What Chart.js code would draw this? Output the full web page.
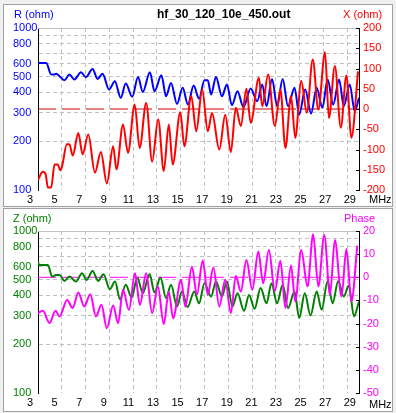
<!DOCTYPE html>
<html><head><meta charset="utf-8">
<script src="https://cdn.jsdelivr.net/npm/chart.js@4"></script>
<style>
html,body{margin:0;padding:0;background:#f0f0f0;width:396px;height:413px;overflow:hidden;position:relative;font-family:"Liberation Sans",Arial,sans-serif}
.panel{position:absolute;left:3px;width:388px;background:#fff;border:1px solid #a0a0a0}
#p1{top:4px;height:201px}
#p2{top:208px;height:202px}
canvas{position:absolute;left:0}
.lbl{position:absolute;font-size:11px;white-space:nowrap;line-height:12px}
</style></head><body>
<div class="panel" id="p1"></div><div class="panel" id="p2"></div>
<canvas id="c1" width="396" height="207" style="top:0"></canvas>
<canvas id="c2" width="396" height="206" style="top:207px"></canvas>
<div class="lbl" style="left:14px;top:8px;color:#0000ff">R (ohm)</div>
<div class="lbl" style="left:157px;top:8px;color:#000;font-weight:bold;font-size:12px">hf_30_120_10e_450.out</div>
<div class="lbl" style="left:343px;top:8px;color:#ff0000">X (ohm)</div>
<div class="lbl" style="left:369px;top:193px;color:#000">MHz</div>
<div class="lbl" style="left:13px;top:212px;color:#008000">Z (ohm)</div>
<div class="lbl" style="left:344px;top:212px;color:#ff00ff">Phase</div>
<div class="lbl" style="left:369px;top:398px;color:#000">MHz</div>
<script>
// ---- data ----
const freqTicks = [3,5,7,9,11,13,15,17,19,21,23,25,27,29];
const logTicks = [100,200,300,400,500,600,700,800,900,1000];
const logLabels = [100,200,300,400,500,600,800,1000];
const reactTicks = [-200,-150,-100,-50,0,50,100,150,200];
const phaseTicks = [-50,-40,-30,-20,-10,0,10,20];
const freqRange = [3,30];

const rFreq = [3.0,3.69,4.11,4.39,4.53,4.81,5.22,5.64,6.06,6.62,7.03,7.59,8.01,8.43,8.98,9.46,9.96,10.38,10.93,11.41,11.82,12.41,12.80,13.38,13.77,14.19,14.69,15.17,15.61,16.09,16.55,17.0,17.28,17.56,17.97,18.47,18.89,19.31,19.78,20.28,20.89,21.44,21.86,22.22,22.69,23.11,23.58,24.03,24.58,24.97,25.47,25.97,26.44,26.92,27.36,27.83,28.33,28.72,29.22,29.64,30.0];
const rVal = [608,608,516,516,521,504,476,516,481,533,497,559,485,521,417,469,371,454,376,499,403,533,407,511,379,458,340,427,337,441,366,476,476,388,499,379,448,334,407,325,423,353,448,329,485,329,485,329,427,292,417,297,427,322,481,337,481,329,448,307,371];

const xFreq = [3.0,3.41,3.64,3.83,4.11,4.39,4.67,4.86,5.03,5.42,5.64,5.92,6.39,6.75,7.23,7.79,8.29,8.79,9.32,9.60,10.15,10.57,11.13,11.55,12.10,12.60,13.11,13.58,14.00,14.33,14.97,15.31,15.89,16.31,16.81,17.28,17.64,18.25,18.75,19.22,19.64,20.06,20.53,20.89,21.58,21.86,22.36,22.92,23.39,23.81,24.28,24.64,25.14,25.61,26.11,26.58,27.14,27.47,27.97,28.47,28.94,29.36,29.92];
const xVal = [-175,-155,-161,-194,-194,-137,-137,-151,-141,-87,-87,-115,-59,-112,-63,-157,-106,-184,-92,-149,-38,-108,11,-96,15,-130,-26,-153,-38,-137,-8,-92,32,-55,48,-55,-10,-100,-14,-106,3,-42,50,-34,77,7,85,-42,48,-96,32,-71,69,-9,122,-1,140,-22,106,-46,83,-71,93];

const zFreq = [3.0,3.09,3.83,4.19,4.53,4.81,5.22,5.64,6.20,6.70,7.09,7.59,8.06,8.51,9.04,9.48,9.90,10.38,10.88,11.35,11.82,12.38,12.80,13.30,13.77,14.19,14.69,15.11,15.58,16.14,16.55,17.0,17.56,17.97,18.47,18.89,19.36,19.78,20.33,20.75,21.22,21.72,22.22,22.64,23.11,23.58,24.03,24.58,24.97,25.44,25.92,26.44,26.86,27.36,27.78,28.25,28.72,29.14,29.58,30.0];
const zVal = [647,617,617,523,536,536,492,523,487,549,499,567,492,541,437,487,379,465,388,516,413,543,417,516,385,465,342,423,339,423,358,476,394,487,394,487,342,413,322,403,331,444,358,476,358,465,334,423,290,413,301,423,326,492,358,492,394,461,297,367];

const pFreq = [3.0,3.41,3.97,4.47,4.81,5.45,5.92,6.39,6.89,7.40,7.87,8.34,8.79,9.32,9.74,10.15,10.65,11.16,11.57,12.10,12.60,13.08,13.58,14.00,14.36,15.03,15.39,15.95,16.36,16.86,17.28,17.75,18.25,18.75,19.22,19.64,20.06,20.53,21.03,21.53,21.94,22.42,22.92,23.39,23.81,24.28,24.64,25.14,25.67,26.14,26.58,27.08,27.56,27.97,28.53,28.94,29.36,29.86];
const pVal = [-15.5,-14.5,-19.8,-14.5,-16.9,-9.8,-13.3,-6.6,-12.6,-7.3,-16.9,-11.9,-22.0,-12.2,-19.8,-5.4,-14.1,1.7,-11.9,1.7,-15.5,-4.0,-20.2,-6.2,-17.7,-1.1,-12.6,4.6,-7.6,7.2,-7.6,4.2,-12.6,-1.1,-15.5,0.6,-6.2,7.5,-5.4,11.1,-2.6,11.8,-5.9,7.1,-13.3,5.1,-10.5,11.8,-4.0,18.6,-4.0,18.3,-7.6,16.1,-8.3,12.2,-10.5,13.7];

// ---- chart builder ----
const FONT = {family:'"Liberation Sans", Arial, sans-serif', size:11};
const GRID = '#c0c0c0';
const pts = (fx, fy) => fx.map((f,i)=>({x:f, y:fy[i]}));

const framePlugin = {
  id:'frame',
  beforeDatasetsDraw(chart){
    const {ctx, chartArea:a} = chart;
    ctx.save();
    ctx.strokeStyle = GRID; ctx.lineWidth = 1;
    const t = Math.round(a.top)+0.5;
    ctx.beginPath(); ctx.moveTo(a.left, t); ctx.lineTo(a.right, t); ctx.stroke();
    const s = chart.scales.y2;
    ctx.strokeStyle = '#000';
    ctx.beginPath();
    s.ticks.forEach(tk=>{
      const y = Math.round(s.getPixelForValue(tk.value))+0.5;
      ctx.moveTo(a.right-3, y); ctx.lineTo(a.right, y);
    });
    ctx.stroke();
    ctx.restore();
  }
};

function makeChart(id, cfg){
  const setTicks = arr => s => { s.ticks = arr.map(v=>({value:v})); };
  const line = (data, color, axis, order) => ({
    data, borderColor:color, borderWidth:2, pointRadius:0, fill:false,
    cubicInterpolationMode:'monotone', yAxisID:axis, xAxisID:'x', order
  });
  return new Chart(document.getElementById(id), {
    type:'line',
    data:{datasets:[
      line(pts(cfg.rightF, cfg.rightV), cfg.rightColor, 'y2', 0),
      line(pts(cfg.leftF, cfg.leftV), cfg.leftColor, 'y', 1),
      {data: freqRange.map(f=>({x:f,y:0})), borderColor:cfg.zeroColor, borderWidth:1,
       borderDash:[18,6], pointRadius:0, yAxisID:'y2', xAxisID:'x', order:2}
    ]},
    options:{
      responsive:false, animation:false,
      layout:{padding:{left:13, top:cfg.padTop, right:0, bottom:0}},
      plugins:{legend:{display:false}, tooltip:{enabled:false}},
      scales:{
        x:{type:'linear', min:freqRange[0], max:freqRange[1], position:'bottom', weight:2,
           afterBuildTicks:setTicks(freqTicks), afterFit:s=>{s.height=0;},
           ticks:{display:false},
           grid:{drawTicks:false, lineWidth:1, color:c=>(c.tick && c.tick.value===3)?'rgba(0,0,0,0)':GRID},
           border:{display:true, color:'#000', width:1, dash:[4,3]}},
        xl:{type:'linear', min:3.65, max:29.75, position:'bottom', weight:1,
           afterBuildTicks:setTicks(freqTicks), afterFit:s=>{s.height=cfg.axisH;},
           grid:{display:false, drawTicks:false}, border:{display:false},
           ticks:{color:'#000', font:FONT, padding:cfg.xPad, maxRotation:0, autoSkip:false}},
        y:{type:'logarithmic', min:100, max:1000, position:'left',
           afterBuildTicks:setTicks(logTicks), afterFit:s=>{s.width=25;},
           ticks:{callback:v=>logLabels.includes(v)?String(v):'', color:cfg.leftColor, font:FONT, crossAlign:'far', autoSkip:false, padding:0},
           grid:{drawTicks:false, lineWidth:1, color:c=>(c.tick && (c.tick.value===100||c.tick.value===1000))?'rgba(0,0,0,0)':GRID},
           border:{display:true, color:'#000', width:1, dash:[4,3]}},
        y2:{type:'linear', min:cfg.rMin, max:cfg.rMax, position:'right',
           afterBuildTicks:setTicks(cfg.rTicks), afterFit:s=>{s.width=37;},
           ticks:{color:cfg.rightColor, font:FONT, padding:4, autoSkip:false},
           grid:{display:false, drawTicks:false},
           border:{display:true, color:'#000', width:1}}
      }
    },
    plugins:[framePlugin]
  });
}

makeChart('c1', {leftF:rFreq, leftV:rVal, leftColor:'#0000ff',
  rightF:xFreq, rightV:xVal, rightColor:'#ff0000', zeroColor:'#cc0000',
  rMin:-200, rMax:200, rTicks:reactTicks, padTop:28, axisH:17, xPad:3});
makeChart('c2', {leftF:zFreq, leftV:zVal, leftColor:'#008000',
  rightF:pFreq, rightV:pVal, rightColor:'#ff00ff', zeroColor:'#ff00ff',
  rMin:-50, rMax:20, rTicks:phaseTicks, padTop:24, axisH:20, xPad:3});
</script>
</body></html>
